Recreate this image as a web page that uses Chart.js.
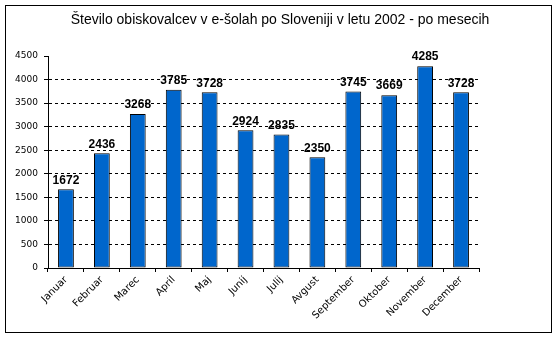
<!DOCTYPE html>
<html>
<head>
<meta charset="utf-8">
<script src="https://cdn.jsdelivr.net/npm/chart.js@4/dist/chart.umd.min.js"></script>
<style>
    html, body { margin: 0; padding: 0; background: #fff; }
    #wrap { width: 558px; height: 338px; }
</style>
</head>
<body>
<div id="wrap"><canvas id="visitorsChart" width="558" height="338"></canvas></div>
<script>
const chartTitle = 'Število obiskovalcev v e-šolah po Sloveniji v letu 2002 - po mesecih';
const months = ['Januar', 'Februar', 'Marec', 'April', 'Maj', 'Junij', 'Julij', 'Avgust', 'September', 'Oktober', 'November', 'December'];
const visitors = [1672, 2436, 3268, 3785, 3728, 2924, 2835, 2350, 3745, 3669, 4285, 3728];
const yMax = 4500;
const yStep = 500;

// Frame and title around the plot
const framePlugin = {
    id: 'frame',
    beforeDraw(chart) {
        const ctx = chart.ctx;
        ctx.save();
        ctx.fillStyle = '#fff';
        ctx.fillRect(0, 0, chart.width, chart.height);
        ctx.restore();
    },
    afterDraw(chart) {
        const ctx = chart.ctx;
        ctx.save();
        ctx.strokeStyle = '#000';
        ctx.lineWidth = 1;
        ctx.strokeRect(5.5, 5.5, 546, 327);
        ctx.fillStyle = '#000';
        ctx.font = '14px "Liberation Sans", Arial, sans-serif';
        ctx.textAlign = 'center';
        ctx.textBaseline = 'middle';
        ctx.fillText(chartTitle, 280, 20);
        ctx.restore();
    }
};

// Value above each bar
const valueLabels = {
    id: 'valueLabels',
    afterDatasetsDraw(chart) {
        const ctx = chart.ctx;
        const meta = chart.getDatasetMeta(0);
        ctx.save();
        ctx.fillStyle = '#000';
        ctx.font = 'bold 12px "Liberation Sans", Arial, sans-serif';
        ctx.textAlign = 'center';
        ctx.textBaseline = 'bottom';
        meta.data.forEach((bar, i) => {
            ctx.fillText(String(visitors[i]), bar.x, bar.y - 3);
        });
        ctx.restore();
    }
};

new Chart(document.getElementById('visitorsChart'), {
    type: 'bar',
    data: {
        labels: months,
        datasets: [{
            data: visitors,
            backgroundColor: '#0066CC',
            borderColor: '#000',
            borderWidth: 1,
            borderSkipped: false,
            barPercentage: 0.44,
            categoryPercentage: 1
        }]
    },
    options: {
        responsive: false,
        animation: false,
        layout: { padding: { left: 0, right: 79, top: 56, bottom: 0 } },
        plugins: {
            legend: { display: false },
            title: { display: false },
            tooltip: { enabled: false }
        },
        scales: {
            x: {
                offset: true,
                grid: {
                    offset: true,
                    drawOnChartArea: false,
                    tickLength: 4,
                    tickColor: '#000'
                },
                border: { color: '#000', width: 1 },
                ticks: {
                    color: '#000',
                    font: { family: '"DejaVu Sans", sans-serif', size: 10 },
                    minRotation: 45,
                    maxRotation: 45,
                    padding: 2,
                    autoSkip: false
                },
                afterFit(scale) {
                    scale.height = 70;
                    scale.paddingLeft = 0;
                    scale.paddingRight = 0;
                }
            },
            y: {
                min: 0,
                max: yMax,
                grid: {
                    color: c => (c.tick && (c.tick.value === 0 || c.tick.value === yMax)) ? 'rgba(0,0,0,0)' : '#000',
                    tickColor: '#000',
                    tickLength: 4,
                    lineWidth: 1
                },
                border: { color: '#000', width: 1, dash: [3, 3] },
                ticks: {
                    stepSize: yStep,
                    color: '#000',
                    font: { family: '"DejaVu Sans", sans-serif', size: 9 },
                    padding: 6,
                    callback: v => String(v)
                },
                afterFit(scale) {
                    scale.width = 48;
                }
            }
        }
    },
    plugins: [framePlugin, valueLabels]
});
</script>
</body>
</html>
